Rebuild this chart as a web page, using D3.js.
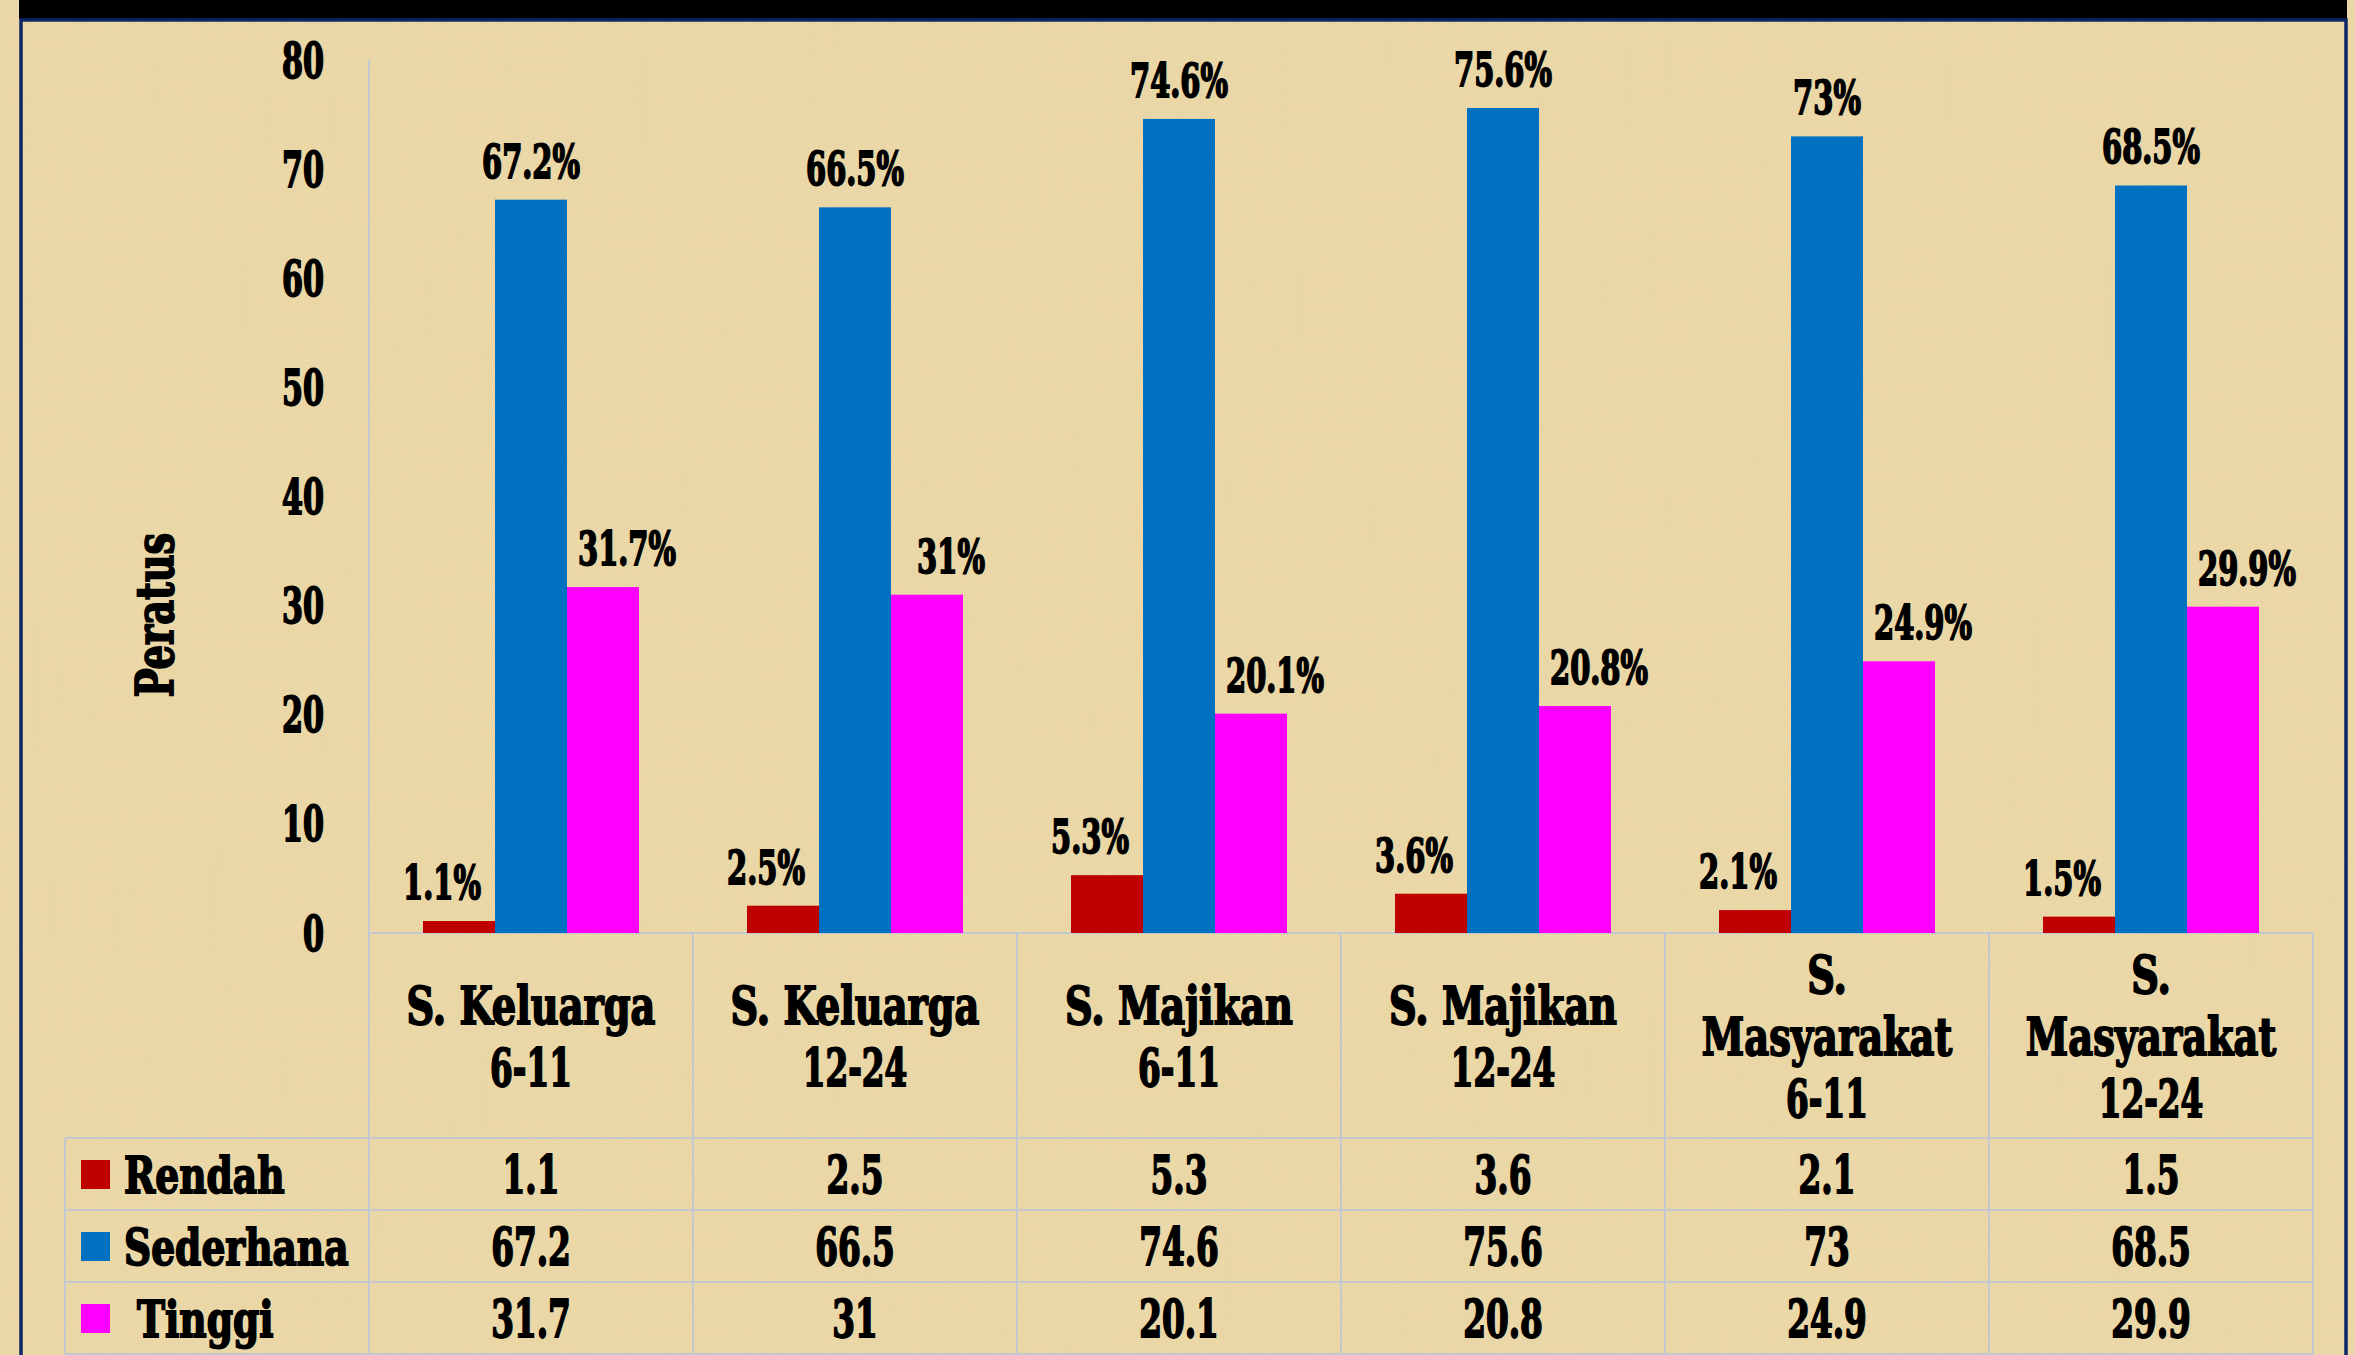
<!DOCTYPE html>
<html>
<head>
<meta charset="utf-8">
<script src="https://cdn.jsdelivr.net/npm/d3@7"></script>
<style>
    html, body { margin: 0; padding: 0; overflow: hidden; background: #e8d4a2; }
    text { font-family: "DejaVu Serif Condensed", "DejaVu Serif", serif; font-weight: bold; font-stretch: condensed;
           fill: #000; stroke: #000; stroke-width: 1.8px; }
</style>
</head>
<body>
<script>

// data

const categories = ["S. Keluarga\n6-11", "S. Keluarga\n12-24", "S. Majikan\n6-11",
                    "S. Majikan\n12-24", "S.\nMasyarakat\n6-11", "S.\nMasyarakat\n12-24"];
const series = ["Rendah", "Sederhana", "Tinggi"];
const seriesLabels = ["Rendah", "Sederhana", " Tinggi"];
const rendah = [1.1, 2.5, 5.3, 3.6, 2.1, 1.5];
const sederhana = [67.2, 66.5, 74.6, 75.6, 73, 68.5];
const tinggi = [31.7, 31, 20.1, 20.8, 24.9, 29.9];
const yTicks = [0, 10, 20, 30, 40, 50, 60, 70, 80];
const yTitle = "Peratus";

function drawChart() {

    const values = [rendah, sederhana, tinggi];
    const colors = ["#c00000", "#0070c0", "#ff00ff"];
    const labelShift = [-17, 0, 24];   // data labels sit off-centre in the original

    const rows = series.map((s, i) => ({ name: s, label: seriesLabels[i], color: colors[i], values: values[i] }));
    const bars = [];
    rows.forEach((r, si) => r.values.forEach((v, ci) => bars.push({ series: r.name, si, cat: categories[ci], value: v })));

    // dimensions

    const dms = {
        width: 2355,
        height: 1355,
        plotLeft: 369,
        plotRight: 2313,
        plotTop: 60,
        plotBottom: 933,
        headerBottom: 1138,
        rowHeight: 72,
        tableLeft: 65
    };

    // digits in the original face are much narrower than letters
    const squeeze = t => /^[\d.\-%\s]+$/.test(t) ? 0.7 : 0.82;

    const svg = d3.select("body")
                    .append("svg")
                        .attr("width", dms.width)
                        .attr("height", dms.height);

    // papyrus background

    const defs = svg.append("defs");
    const filter = defs.append("filter")
                        .attr("id", "papyrus")
                        .attr("x", 0).attr("y", 0)
                        .attr("width", "100%").attr("height", "100%")
                        .attr("filterUnits", "userSpaceOnUse");
    const layer = (freq, seed, octaves, rgb, gain, bias, name) => {
        filter.append("feTurbulence")
                .attr("type", "fractalNoise")
                .attr("baseFrequency", freq)
                .attr("numOctaves", octaves)
                .attr("seed", seed)
                .attr("result", name + "N");
        filter.append("feColorMatrix")
                .attr("in", name + "N")
                .attr("type", "matrix")
                .attr("values", `0 0 0 0 ${rgb[0]}  0 0 0 0 ${rgb[1]}  0 0 0 0 ${rgb[2]}  ${gain} 0 0 0 ${bias}`)
                .attr("result", name);
    };
    layer("0.12 0.005", 4, 3, [0.80, 0.66, 0.38], 1.2, -0.48, "vert");
    layer("0.005 0.12", 11, 3, [0.82, 0.69, 0.42], 1.1, -0.46, "hor");
    layer("0.45 0.45", 2, 1, [0.76, 0.63, 0.38], 0.7, -0.28, "fine");
    const merge = filter.append("feMerge");
    ["vert", "hor", "fine"].forEach(n => merge.append("feMergeNode").attr("in", n));

    svg.append("rect")
        .attr("width", dms.width)
        .attr("height", dms.height)
        .attr("fill", "#ecd8a6");
    svg.append("rect")
        .attr("width", dms.width)
        .attr("height", dms.height)
        .attr("filter", "url(#papyrus)");

    // title bar and frame

    svg.append("rect")
        .attr("x", 19).attr("y", -10)
        .attr("width", 2328).attr("height", 29)
        .attr("fill", "#000");
    svg.append("rect")
        .attr("x", 21).attr("y", 20)
        .attr("width", 2325).attr("height", 1400)
        .attr("fill", "none")
        .attr("stroke", "#0d2766")
        .attr("stroke-width", 3.5);

    // scales

    const xScale = d3.scaleBand()
                        .domain(categories)
                        .range([dms.plotLeft, dms.plotRight])
                        .padding(0);
    const bw = xScale.bandwidth();

    const xInner = d3.scaleBand()
                        .domain(series)
                        .range([bw / 6, bw * 5 / 6])
                        .padding(0);

    const yScale = d3.scaleLinear()
                        .domain([0, 80])
                        .range([dms.plotBottom, dms.plotTop]);

    // table grid

    const grid = svg.append("g")
                    .attr("stroke", "#c3c7cf")
                    .attr("stroke-width", 2)
                    .attr("fill", "none");
    const rowLines = d3.range(series.length + 1).map(i => dms.headerBottom + i * dms.rowHeight);
    grid.append("line")
        .attr("x1", dms.plotLeft).attr("x2", dms.plotRight)
        .attr("y1", dms.plotBottom).attr("y2", dms.plotBottom);
    grid.selectAll(".row")
        .data(rowLines)
        .enter()
        .append("line")
            .attr("x1", dms.tableLeft).attr("x2", dms.plotRight)
            .attr("y1", d => d).attr("y2", d => d);
    grid.selectAll(".col")
        .data(categories.concat(["end"]))
        .enter()
        .append("line")
            .attr("x1", (d, i) => dms.plotLeft + i * bw)
            .attr("x2", (d, i) => dms.plotLeft + i * bw)
            .attr("y1", (d, i) => i === 0 ? dms.plotTop : dms.plotBottom)
            .attr("y2", rowLines[rowLines.length - 1]);
    grid.append("line")
        .attr("x1", dms.tableLeft).attr("x2", dms.tableLeft)
        .attr("y1", dms.headerBottom).attr("y2", rowLines[rowLines.length - 1]);

    // y axis

    const yAxis = d3.axisLeft(yScale)
                    .tickValues(yTicks)
                    .tickSize(0)
                    .tickPadding(45);
    const yAxisG = svg.append("g")
                    .attr("transform", `translate(${dms.plotLeft},0)`)
                    .call(yAxis);
    yAxisG.select(".domain").remove();
    yAxisG.attr("font-family", null).attr("font-size", null);
    yAxisG.selectAll("text")
        .attr("x", null)
        .attr("dy", null)
        .attr("fill", null)
        .attr("font-size", 48)
        .attr("text-anchor", "end")
        .attr("transform", d => `translate(-45,17) scale(${squeeze(String(d))},1)`);

    svg.append("text")
        .attr("transform", `translate(173,615) rotate(-90) scale(${squeeze(yTitle)},1)`)
        .attr("text-anchor", "middle")
        .attr("font-size", 52)
        .text(yTitle);

    // bars

    svg.append("g")
        .selectAll("rect")
        .data(bars)
        .enter()
        .append("rect")
            .attr("x", d => xScale(d.cat) + xInner(d.series))
            .attr("y", d => yScale(d.value))
            .attr("width", xInner.bandwidth())
            .attr("height", d => yScale(0) - yScale(d.value))
            .attr("fill", d => colors[d.si]);

    svg.append("g")
        .selectAll("text")
        .data(bars)
        .enter()
        .append("text")
            .attr("text-anchor", "middle")
            .attr("font-size", 46)
            .attr("transform", d => `translate(${xScale(d.cat) + xInner(d.series) + xInner.bandwidth() / 2 + labelShift[d.si]},${yScale(d.value) - 22}) scale(${squeeze(d.value + "%")},1)`)
            .text(d => `${d.value}%`);

    // category header cells

    const headerMid = (dms.plotBottom + dms.headerBottom) / 2;
    const lineGap = 62;
    const catG = svg.append("g")
                    .selectAll("g")
                    .data(categories)
                    .enter()
                    .append("g");
    catG.selectAll("text")
        .data(d => {
            const lines = d.split("\n");
            return lines.map((t, i) => ({ t, cat: d, i, n: lines.length }));
        })
        .enter()
        .append("text")
            .attr("text-anchor", "middle")
            .attr("font-size", 52)
            .attr("transform", d => `translate(${xScale(d.cat) + bw / 2},${headerMid + 19 + (d.i - (d.n - 1) / 2) * lineGap}) scale(${squeeze(d.t)},1)`)
            .text(d => d.t);

    // data rows with legend keys

    const rowG = svg.append("g")
                    .selectAll("g")
                    .data(rows)
                    .enter()
                    .append("g")
                        .attr("transform", (d, i) => `translate(0,${dms.headerBottom + (i + 0.5) * dms.rowHeight})`);
    rowG.append("rect")
        .attr("x", 81)
        .attr("y", -14)
        .attr("width", 29)
        .attr("height", 29)
        .attr("fill", d => d.color);
    rowG.append("text")
        .attr("transform", d => `translate(124,19) scale(${squeeze(d.label)},1)`)
        .attr("font-size", 51)
        .style("white-space", "pre")
        .text(d => d.label);
    rowG.selectAll(".val")
        .data(d => d.values.map((v, i) => ({ v, cat: categories[i] })))
        .enter()
        .append("text")
            .attr("text-anchor", "middle")
            .attr("font-size", 52)
            .attr("transform", d => `translate(${xScale(d.cat) + bw / 2},19) scale(${squeeze(String(d.v))},1)`)
            .text(d => d.v);
}

drawChart();
</script>
</body>
</html>
